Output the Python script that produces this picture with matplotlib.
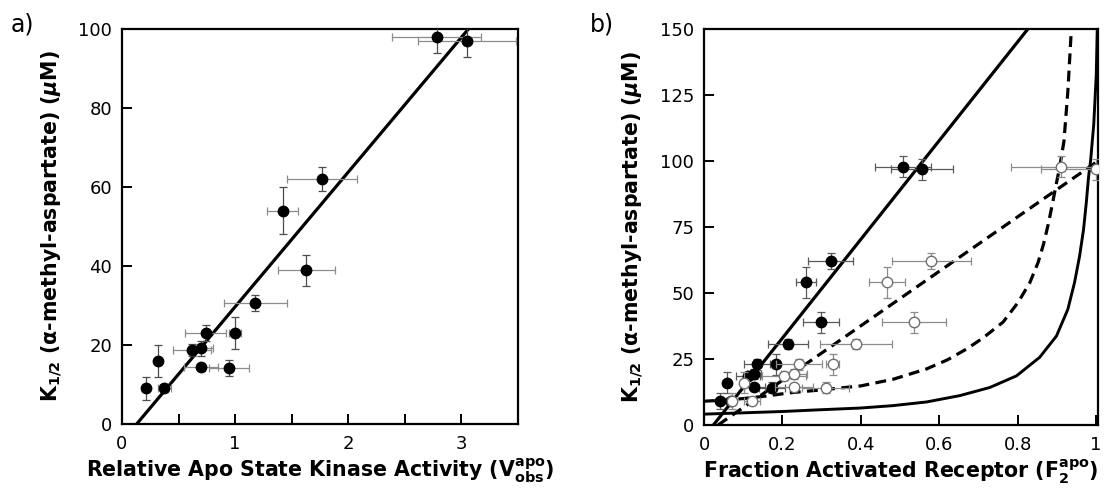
import matplotlib
matplotlib.use("Agg")
import matplotlib.pyplot as plt

plt.rcParams['font.family'] = ['DejaVu Sans']
plt.rcParams['mathtext.fontset'] = 'custom'
plt.rcParams['mathtext.rm'] = 'DejaVu Sans:bold'
plt.rcParams['mathtext.it'] = 'DejaVu Sans:bold:italic'
plt.rcParams['mathtext.bf'] = 'DejaVu Sans:bold'

# ---------------- data: panel a ----------------
a_x = [0.21, 0.315, 0.375, 0.62, 0.70, 0.74, 0.70, 0.946, 1.0, 1.18, 1.42, 1.63, 1.77, 2.78, 3.05]
a_y = [9.0, 16.0, 9.0, 18.7, 19.2, 23.0, 14.3, 14.1, 23.0, 30.7, 54.0, 38.9, 62.0, 97.9, 96.9]
a_xerr = [0.03, 0.02, 0.06, 0.17, 0.10, 0.18, 0.15, 0.18, 0.05, 0.28, 0.14, 0.25, 0.31, 0.39, 0.43]
a_yerr = [3.0, 4.0, 1.0, 1.5, 1.9, 2.0, 1.0, 2.0, 4.0, 2.0, 6.0, 4.0, 3.0, 4.0, 4.0]
a_fit_x = [0.13, 3.062]
a_fit_y = [0.0, 100.0]

# ---------------- data: panel b ----------------
bf_x = [0.041, 0.058, 0.068, 0.113, 0.128, 0.135, 0.128, 0.173, 0.183, 0.215, 0.26, 0.298, 0.323, 0.507, 0.557]
bf_xerr = [0.005, 0.004, 0.011, 0.031, 0.018, 0.033, 0.027, 0.033, 0.009, 0.051, 0.026, 0.046, 0.057, 0.071, 0.079]
bo_x = [0.071, 0.103, 0.123, 0.203, 0.23, 0.243, 0.23, 0.31, 0.328, 0.387, 0.466, 0.535, 0.58, 0.911, 1.0]
bo_xerr = [0.01, 0.007, 0.02, 0.056, 0.033, 0.059, 0.049, 0.059, 0.016, 0.092, 0.046, 0.082, 0.10, 0.128, 0.141]
b_y = [9.0, 16.0, 9.0, 18.7, 19.2, 23.0, 14.3, 14.1, 23.0, 30.7, 54.0, 38.9, 62.0, 97.9, 96.9]
b_yerr = [3.0, 4.0, 1.0, 1.5, 1.9, 2.0, 1.0, 2.0, 4.0, 2.0, 6.0, 4.0, 3.0, 4.0, 4.0]

# straight solid line
b_line1_x = [0.024, 0.826]
b_line1_y = [0.0, 150.0]
# straight dashed line
b_line2_x = [0.036, 1.005]
b_line2_y = [0.0, 100.0]
# dashed curve
b_dcurve_x = [0.0, 0.05, 0.10, 0.15, 0.22, 0.30, 0.40, 0.482, 0.567, 0.62, 0.67, 0.712, 0.763,
              0.801, 0.831, 0.852, 0.866, 0.878, 0.889, 0.899, 0.907, 0.918, 0.928, 0.937]
b_dcurve_y = [9.0, 9.4, 10.0, 10.8, 12.2, 13.3, 14.8, 17.3, 21.2, 24.6, 28.8, 33.0, 39.0,
              46.4, 53.9, 61.5, 68.5, 76.0, 84.0, 91.7, 97.5, 107.4, 126.3, 150.0]
# solid curve
b_scurve_x = [0.0, 0.10, 0.20, 0.287, 0.397, 0.48, 0.567, 0.652, 0.729, 0.797, 0.856, 0.899,
              0.928, 0.945, 0.958, 0.968, 0.975, 0.981, 0.986, 0.994, 1.0005, 1.003]
b_scurve_y = [4.1, 4.6, 5.1, 5.7, 6.4, 7.3, 8.7, 11.1, 14.2, 18.6, 25.6, 33.7,
              43.8, 53.9, 64.0, 74.0, 84.1, 94.2, 100.0, 113.7, 132.6, 150.0]

a_xticks = [0, 0.5, 1, 1.5, 2, 2.5, 3, 3.5]
a_xticklabels = ['0', '', '1', '', '2', '', '3', '']
a_yticks = [0, 20, 40, 60, 80, 100]
b_xticks = [0, 0.2, 0.4, 0.6, 0.8, 1.0]
b_xticklabels = ['0', '0.2', '0.4', '0.6', '0.8', '1']
b_yticks = [0, 25, 50, 75, 100, 125, 150]

ylabel_txt = r'K$_{\mathregular{1/2}}$ (α-methyl-aspartate) ($\mathit{μ}$M)'

fig = plt.figure(figsize=(11.08, 4.93), dpi=100)
axa = fig.add_axes([0.1101, 0.1400, 0.3574, 0.8012])
axb = fig.add_axes([0.6354, 0.1380, 0.3556, 0.8032])

def style(ax):
    for s in ax.spines.values():
        s.set_linewidth(1.6)
    ax.tick_params(direction='in', length=7, width=1.4, labelsize=13,
                   top=False, right=False, pad=8)
    ax.tick_params(axis='y', pad=7)

# ---- panel a ----
axa.plot(a_fit_x, a_fit_y, color='black', lw=2.3, zorder=2)
axa.errorbar(a_x, a_y, xerr=a_xerr, fmt='none', ecolor='#8c8c8c', elinewidth=0.9,
             capsize=3, capthick=0.9, zorder=3)
axa.errorbar(a_x, a_y, yerr=a_yerr, fmt='none', ecolor='#4d4d4d', elinewidth=0.9,
             capsize=3, capthick=0.9, zorder=3)
axa.plot(a_x, a_y, 'o', color='black', ms=7.5, zorder=4)
axa.set_xlim(0, 3.5)
axa.set_ylim(0, 100)
axa.set_xticks(a_xticks)
axa.set_xticklabels(a_xticklabels)
axa.set_yticks(a_yticks)
style(axa)
axa.set_xlabel(r'Relative Apo State Kinase Activity (V$_{\mathrm{obs}}^{\mathrm{apo}}$)',
               fontsize=14.8, fontweight='bold', labelpad=2)
axa.set_ylabel(ylabel_txt, fontsize=14.8, fontweight='bold', labelpad=10)

# ---- panel b ----
dash = (0, (3.4, 2.0))
axb.plot(b_line1_x, b_line1_y, color='black', lw=2.3, zorder=2, solid_joinstyle='round')
axb.plot(b_line2_x, b_line2_y, color='black', lw=2.3, ls=dash, zorder=2)
axb.plot(b_dcurve_x, b_dcurve_y, color='black', lw=2.3, ls=dash, zorder=2,
         dash_joinstyle='round')
axb.plot(b_scurve_x, b_scurve_y, color='black', lw=2.1, zorder=2, solid_joinstyle='round')

axb.errorbar(bf_x, b_y, xerr=bf_xerr, yerr=b_yerr, fmt='none', ecolor='#5a5a5a',
             elinewidth=0.9, capsize=3, capthick=0.9, zorder=3)
axb.plot(bf_x, b_y, 'o', color='black', ms=7.5, zorder=4)
axb.errorbar(bo_x, b_y, xerr=bo_xerr, yerr=b_yerr, fmt='none', ecolor='#8c8c8c',
             elinewidth=0.9, capsize=3, capthick=0.9, zorder=5)
axb.plot(bo_x, b_y, 'o', mfc='white', mec='#707070', mew=1.0, ms=7.5, zorder=6)
axb.set_xlim(0, 1.005)
axb.set_ylim(0, 150)
axb.set_xticks(b_xticks)
axb.set_xticklabels(b_xticklabels)
axb.set_yticks(b_yticks)
style(axb)
axb.set_xlabel(r'Fraction Activated Receptor (F$_{\mathrm{2}}^{\mathrm{apo}}$)',
               fontsize=14.8, fontweight='bold', labelpad=2)
axb.set_ylabel(ylabel_txt, fontsize=14.8, fontweight='bold', labelpad=10)

fig.text(0.010, 0.975, 'a)', fontsize=17, va='top', ha='left')
fig.text(0.532, 0.975, 'b)', fontsize=17, va='top', ha='left')

fig.savefig('out.png', dpi=100)
